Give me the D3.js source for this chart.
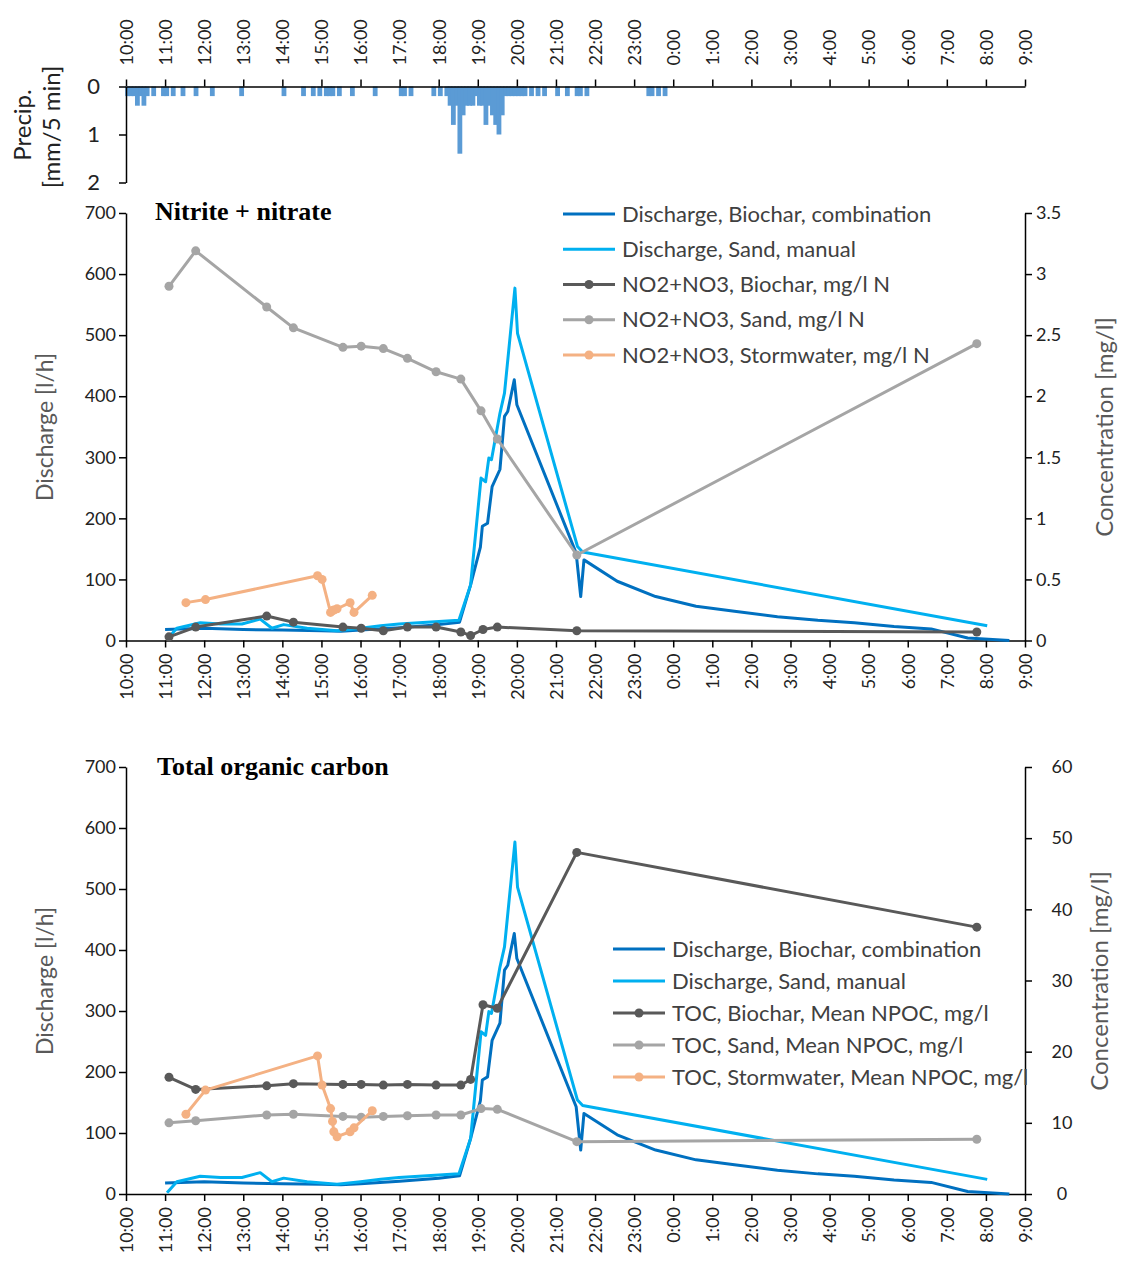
<!DOCTYPE html>
<html>
<head>
<meta charset="utf-8">
<script src="https://cdn.jsdelivr.net/npm/d3@7"></script>
<style>
  body { margin: 0; background: #fff; }
  svg text { font-family: Lato, "Open Sans", sans-serif; }
</style>
</head>
<body>
<svg id="chart" width="1126" height="1268"></svg>
<script>
// ---- data (times as clock strings; hours before 10 belong to the next day) ----
const hourLabels = ["10:00","11:00","12:00","13:00","14:00","15:00","16:00","17:00","18:00","19:00","20:00","21:00",
  "22:00","23:00","0:00","1:00","2:00","3:00","4:00","5:00","6:00","7:00","8:00","9:00"];

// precipitation, start of each 5 min interval, mm
const precipTimes = ["10:00","10:05","10:10","10:15","10:20","10:25","10:30","10:40","10:55","11:00","11:10","11:25",
  "11:45","12:10","12:55","14:00","14:30","14:45","14:55","15:05","15:10","15:15","15:25","15:45","16:20","17:00",
  "17:05","17:15","17:50","18:00","18:10","18:15","18:20","18:25","18:30","18:35","18:40","18:45","18:50","18:55",
  "19:00","19:05","19:10","19:15","19:20","19:25","19:30","19:35","19:40","19:45","19:50","19:55","20:00","20:05",
  "20:10","20:20","20:30","20:40","21:00","21:15","21:30","21:35","21:45","23:20","23:25","23:35","23:45"];
const precipMm = [0.2,0.2,0.2,0.4,0.2,0.4,0.2,0.2,0.2,0.2,0.2,0.2,
  0.2,0.2,0.2,0.2,0.2,0.2,0.2,0.2,0.2,0.2,0.2,0.2,0.2,0.2,
  0.2,0.2,0.2,0.2,0.2,0.4,0.8,0.4,1.4,0.6,0.4,0.4,0.4,0.2,
  0.4,0.4,0.8,0.4,0.6,0.8,1.0,0.6,0.2,0.2,0.2,0.2,0.2,0.2,
  0.2,0.2,0.2,0.2,0.2,0.2,0.2,0.2,0.2,0.2,0.2,0.2,0.2];
const precipTicks = [0, 1, 2];

// discharge, l/h
const qBiocharTimes = ["11:00","12:00","13:00","14:00","15:00","15:30","16:00","17:00","18:00","18:32","18:49","19:04",
  "19:07","19:15","19:22","19:34","19:41","19:46","19:56","20:00","21:31","21:38","21:43","22:34","23:33","0:35",
  "1:34","2:40","3:42","4:38","5:39","6:36","7:32","8:36"];
const qBiochar = [18,20,18,17,16,15,17,21,26,30,91,153,
  187,192,252,280,367,375,427,386,143,72,132,97,72,56,
  48,39,33,29,23,19,4,0];
const qSandTimes = ["11:03","11:18","11:54","12:25","12:58","13:26","13:44","14:02","14:38","15:24","16:00","16:31",
  "16:59","18:31","18:49","19:05","19:12","19:17","19:21","19:34","19:41","19:57","20:01","21:33","21:41","8:02"];
const qSand = [2,20,29,27,27,35,20,26,20,16,20,24,
  27,33,91,266,260,299,296,372,405,577,503,154,145,24];

// sampling times
const biocharTimes = ["11:06","11:47","13:36","14:17","15:33","16:01","16:35","17:12","17:56","18:34","18:49","19:08","19:30","21:32","7:46"];
const sandTimes = ["11:06","11:47","13:36","14:17","15:33","16:01","16:35","17:12","17:56","18:34","19:05","19:30","21:32","7:46"];
const stormTimes = ["11:32","12:02","14:54","15:01","15:14","15:17","15:19","15:24","15:44","15:50","16:18"];

// NO2+NO3, mg/l N
const no3Biochar = [0.03,0.11,0.20,0.15,0.11,0.10,0.08,0.11,0.11,0.07,0.04,0.09,0.11,0.08,0.07];
const no3Sand = [2.90,3.19,2.73,2.56,2.40,2.41,2.39,2.31,2.20,2.14,1.88,1.65,0.70,2.43];
const no3Storm = [0.31,0.335,0.53,0.50,0.23,0.245,0.25,0.26,0.31,0.23,0.37];

// TOC, mean NPOC, mg/l
const tocBiochar = [16.4,14.7,15.2,15.5,15.4,15.4,15.3,15.4,15.3,15.3,16.1,26.6,26.1,48.0,37.5];
const tocSand = [10.0,10.3,11.1,11.2,10.9,10.8,10.9,11.0,11.1,11.1,12.0,11.9,7.35,7.7];
const tocStorm = [11.2,14.6,19.4,15.3,12.0,10.2,8.75,8.05,8.75,9.3,11.7];

// ---- helpers ----
function hrs(s) {
  const [h, m] = s.split(":").map(Number);
  return (h < 10 ? h + 24 : h) + m / 60;
}
const zip = (ts, vs) => ts.map((t, i) => ({ t: hrs(t), v: vs[i] }));

const c = {
  qBio: "#0070C0", qSand: "#00B0F0",
  bio: "#595959", sand: "#A5A5A5", storm: "#F4B183",
  rain: "#5B9BD5"
};

const svg = d3.select("#chart");
const x = d3.scaleLinear().domain([10, 33]).range([126, 1025]);
const tickVals = hourLabels.map(hrs);

function styleAxis(a) {
  a.select(".domain").attr("stroke", "#000").attr("stroke-width", 1.5);
  a.selectAll(".tick line").attr("stroke", "#000").attr("stroke-width", 1.5);
  a.selectAll("text").attr("fill", "#222").style("font-size", "18px");
}

// ---- precipitation panel ----
const yP = d3.scaleLinear().domain([0, 2]).range([86.5, 182.5]);
const gp = svg.append("g");
gp.selectAll("rect").data(zip(precipTimes, precipMm)).enter().append("rect")
  .attr("x", d => x(d.t + 2.5 / 60) - 2.4)
  .attr("width", 4.8)
  .attr("y", yP(0))
  .attr("height", d => yP(d.v) - yP(0))
  .attr("fill", c.rain);

gp.append("g").attr("transform", `translate(0,${yP(0)})`)
  .call(d3.axisTop(x).tickValues(tickVals).tickFormat((d, i) => hourLabels[i]).tickSize(7).tickSizeOuter(0))
  .call(styleAxis)
  .selectAll("text")
  .attr("transform", "rotate(-90)")
  .attr("x", 21).attr("y", 0).attr("dy", "0.35em")
  .style("text-anchor", "start");

gp.append("g").attr("transform", "translate(126,0)")
  .call(d3.axisLeft(yP).tickValues(precipTicks).tickFormat(d => String(d)).tickSize(7).tickPadding(19).tickSizeOuter(0))
  .call(styleAxis)
  .selectAll("text").style("font-size", "22px");

gp.append("text").attr("transform", "translate(31,125) rotate(-90)")
  .attr("text-anchor", "middle").attr("fill", "#222").style("font-size", "24px").text("Precip.");
gp.append("text").attr("transform", "translate(60,127) rotate(-90)")
  .attr("text-anchor", "middle").attr("fill", "#222").style("font-size", "24px").text("[mm/5 min]");

// ---- concentration / discharge panels ----
function panel(cfg) {
  const g = svg.append("g");
  const yL = d3.scaleLinear().domain([0, 700]).range([cfg.y0, cfg.y1]);
  const yR = d3.scaleLinear().domain([0, cfg.rMax]).range([cfg.y0, cfg.y1]);

  // axes
  g.append("g").attr("transform", `translate(0,${cfg.y0})`)
    .call(d3.axisBottom(x).tickValues(tickVals).tickFormat((d, i) => hourLabels[i]).tickSize(7).tickSizeOuter(0))
    .call(styleAxis)
    .selectAll("text")
    .attr("transform", "rotate(-90)")
    .attr("x", -13).attr("y", 0).attr("dy", "0.35em")
    .style("text-anchor", "end");

  g.append("g").attr("transform", "translate(126,0)")
    .call(d3.axisLeft(yL).tickValues(d3.range(0, 701, 100)).tickSize(7).tickPadding(3).tickSizeOuter(0))
    .call(styleAxis);

  const ra = g.append("g").attr("transform", "translate(1025,0)")
    .call(d3.axisRight(yR).tickValues(cfg.rTicks).tickFormat(d => String(d)).tickSize(7).tickPadding(4).tickSizeOuter(0))
    .call(styleAxis);
  if (cfg.rCenter) ra.selectAll("text").attr("x", 37).style("text-anchor", "middle");

  // axis titles
  g.append("text").attr("transform", `translate(53,${cfg.midY}) rotate(-90)`)
    .attr("text-anchor", "middle").attr("fill", "#595959").style("font-size", "23px").text("Discharge [l/h]");
  g.append("text").attr("transform", `translate(${cfg.rTitleX},${cfg.midY}) rotate(-90)`)
    .attr("text-anchor", "middle").attr("fill", "#595959").style("font-size", "24px").text("Concentration [mg/l]");

  // title
  g.append("text").attr("x", cfg.titleX).attr("y", cfg.titleY)
    .style("font-family", "'Liberation Serif', 'Times New Roman', serif")
    .style("font-weight", "bold").style("font-size", "26px").attr("fill", "#000")
    .text(cfg.title);

  // discharge lines
  const lineL = d3.line().x(d => x(d.t)).y(d => yL(d.v));
  const lineR = d3.line().x(d => x(d.t)).y(d => yR(d.v));
  [[zip(qBiocharTimes, qBiochar), c.qBio], [zip(qSandTimes, qSand), c.qSand]].forEach(([data, col]) => {
    g.append("path").datum(data).attr("d", lineL)
      .attr("fill", "none").attr("stroke", col).attr("stroke-width", 3)
      .attr("stroke-linejoin", "round");
  });

  // concentration lines with markers
  cfg.series.forEach(s => {
    const data = zip(s.times, s.values);
    g.append("path").datum(data).attr("d", lineR)
      .attr("fill", "none").attr("stroke", s.color).attr("stroke-width", 3)
      .attr("stroke-linejoin", "round");
    g.selectAll(null).data(data).enter().append("circle")
      .attr("cx", d => x(d.t)).attr("cy", d => yR(d.v)).attr("r", 4.5)
      .attr("fill", s.color);
  });

  // legend
  const items = [
    { name: "Discharge, Biochar, combination", color: c.qBio, dot: false },
    { name: "Discharge, Sand, manual", color: c.qSand, dot: false }
  ].concat(cfg.series.map(s => ({ name: s.name, color: s.color, dot: true })));
  const lg = g.append("g");
  items.forEach((it, i) => {
    const yy = cfg.legY + i * cfg.legStep;
    lg.append("line").attr("x1", cfg.legX).attr("x2", cfg.legX + 52).attr("y1", yy).attr("y2", yy)
      .attr("stroke", it.color).attr("stroke-width", 3);
    if (it.dot) lg.append("circle").attr("cx", cfg.legX + 26).attr("cy", yy).attr("r", 4.5).attr("fill", it.color);
    lg.append("text").attr("x", cfg.legX + 59).attr("y", yy).attr("dy", "0.35em")
      .attr("fill", "#404040").style("font-size", "22px").text(it.name);
  });
}

panel({
  y0: 640.5, y1: 213, rMax: 3.5, rTicks: d3.range(0, 3.51, 0.5), rCenter: false,
  midY: 427, rTitleX: 1113, title: "Nitrite + nitrate", titleX: 155, titleY: 220,
  legX: 563, legY: 214, legStep: 35.25,
  series: [
    { name: "NO2+NO3, Biochar, mg/l N", times: biocharTimes, values: no3Biochar, color: c.bio },
    { name: "NO2+NO3, Sand, mg/l N", times: sandTimes, values: no3Sand, color: c.sand },
    { name: "NO2+NO3, Stormwater, mg/l N", times: stormTimes, values: no3Storm, color: c.storm }
  ]
});

panel({
  y0: 1194, y1: 767, rMax: 60, rTicks: d3.range(0, 61, 10), rCenter: true,
  midY: 981, rTitleX: 1108, title: "Total organic carbon", titleX: 157, titleY: 775,
  legX: 613, legY: 949, legStep: 32,
  series: [
    { name: "TOC, Biochar, Mean NPOC, mg/l", times: biocharTimes, values: tocBiochar, color: c.bio },
    { name: "TOC, Sand, Mean NPOC, mg/l", times: sandTimes, values: tocSand, color: c.sand },
    { name: "TOC, Stormwater, Mean NPOC, mg/l", times: stormTimes, values: tocStorm, color: c.storm }
  ]
});
</script>
</body>
</html>
